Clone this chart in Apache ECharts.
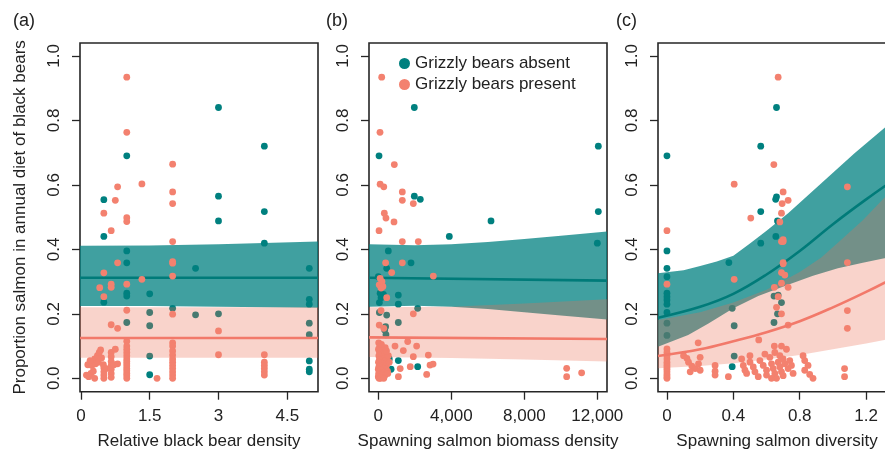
<!DOCTYPE html>
<html>
<head>
<meta charset="utf-8">
<script src="https://cdn.jsdelivr.net/npm/echarts@6/dist/echarts.min.js"></script>
<style>
html,body{margin:0;padding:0;background:#fff;}
#chart{width:885px;height:450px;}
</style>
</head>
<body>
<div id="chart"></div>
<script>
// ---------- tick values / labels ----------
const yTicks = [0, 0.2, 0.4, 0.6, 0.8, 1.0];
const yTickLabels = ['0.0', '0.2', '0.4', '0.6', '0.8', '1.0'];
const aTicks = [0, 1.5, 3, 4.5];
const aTickLabels = ['0', '1.5', '3', '4.5'];
const bTicks = [0, 4000, 8000, 12000];
const bTickLabels = ['0', '4,000', '8,000', '12,000'];
const cTicks = [0, 0.4, 0.8, 1.2];
const cTickLabels = ['0', '0.4', '0.8', '1.2'];
const xTitles = ['Relative black bear density', 'Spawning salmon biomass density', 'Spawning salmon diversity'];
const yTitle = 'Proportion salmon in annual diet of black bears';
const panelLabels = ['(a)', '(b)', '(c)'];
const legendNames = ['Grizzly bears absent', 'Grizzly bears present'];

// ---------- panel (a): relative black bear density ----------
const aAbsent = [[3,0.84],[4,0.72],[1,0.69],[0.5,0.554],[3,0.565],[4,0.517],[3,0.488],[0.5,0.44],[4,0.419],[1,0.395],[1,0.358],[2.5,0.341],[4.98,0.341],[1,0.264],[1,0.255],[1.5,0.262],[0.5,0.236],[2,0.217],[4.98,0.245],[4.98,0.23],[1.5,0.204],[2.5,0.197],[3,0.2],[1,0.173],[1.5,0.163],[4.98,0.171],[4.98,0.135],[1.5,0.069],[4.98,0.054],[4.98,0.028],[4.98,0.02],[1.5,0.011]];
const aPresent = [[1,0.934],[1,0.763],[2,0.664],[0.8,0.594],[1.33,0.603],[2,0.578],[0.75,0.552],[2,0.542],[0.5,0.512],[1,0.498],[1,0.486],[0.66,0.458],[2,0.424],[0.8,0.358],[2,0.362],[2,0.357],[0.5,0.327],[2,0.317],[1.33,0.307],[0.66,0.292],[0.66,0.282],[1,0.292],[0.41,0.281],[0.5,0.253],[1,0.211],[2,0.199],[0.66,0.166],[0.8,0.155],[3,0.147],[3,0.073],[1.66,0.0],
  [0.15,0.042],[0.17,0.005],[0.22,0.015],[0.24,0.04],[0.27,0.022],[0.3,0.06],[0.32,0.045],[0.3,0.0],[0.36,0.07],[0.38,0.05],[0.4,0.08],[0.43,0.088],[0.45,0.063],[0.49,0.042],[0.5,0.032],[0.5,0.02],[0.5,0.01],[0.5,0.0],[0.55,0.03],[0.66,0.08],[0.66,0.067],[0.66,0.052],[0.66,0.04],[0.66,0.028],[0.66,0.015],[0.66,0.003],[0.72,0.042],[0.75,0.09],[0.8,0.045],[0.2,0.055],[0.12,0.01],
  [1,0.115],[1,0.1],[1,0.09],[1,0.08],[1,0.07],[1,0.06],[1,0.052],[1,0.045],[1,0.038],[1,0.03],[1,0.023],[1,0.015],[1,0.008],[1,0.0],
  [2,0.11],[2,0.1],[2,0.085],[2,0.072],[2,0.06],[2,0.05],[2,0.04],[2,0.03],[2,0.02],[2,0.01],[2,0.0],
  [4,0.073],[4,0.05],[4,0.04],[4,0.03],[4,0.02],[4,0.01]];
const aTealLine = [[-0.02,0.312],[5.17,0.312]];
const aTealUpper = [[-0.02,0.411],[1.5,0.412],[3,0.416],[5.17,0.424]];
const aTealLower = [[-0.02,0.224],[1.5,0.224],[3,0.222],[5.17,0.219]];
const aRedLine = [[-0.02,0.125],[5.17,0.125]];
const aRedUpper = [[-0.02,0.22],[5.17,0.22]];
const aRedLower = [[-0.02,0.064],[5.17,0.064]];

// ---------- panel (b): spawning salmon biomass density ----------
const bAbsent = [[1973,0.84],[40,0.69],[12055,0.72],[1973,0.565],[2301,0.555],[12055,0.517],[6175,0.488],[3890,0.44],[12000,0.419],[548,0.395],[1792,0.358],[460,0.341],[0,0.315],[100,0.264],[280,0.26],[1096,0.258],[1096,0.23],[60,0.235],[2158,0.217],[60,0.204],[460,0.196],[1096,0.173],[400,0.16],[350,0.15],[420,0.135],[1096,0.055],[2158,0.036],[600,0.06],[700,0.028],[150,0.25]];
const bPresent = [[186,0.934],[93,0.763],[877,0.663],[100,0.602],[300,0.594],[1315,0.578],[1315,0.552],[1918,0.542],[330,0.512],[420,0.497],[860,0.485],[40,0.458],[1315,0.424],[2192,0.424],[400,0.358],[1315,0.358],[734,0.328],[3014,0.317],[100,0.31],[200,0.3],[50,0.29],[250,0.285],[150,0.28],[460,0.25],[1918,0.2],[150,0.21],[50,0.165],[300,0.155],[10320,0.031],[10320,0.005],[11140,0.017],
  [915,0.1],[1610,0.114],[2100,0.1],[1370,0.086],[1918,0.067],[2740,0.072],[2833,0.041],[3000,0.044],[2650,0.012],[1200,0.03],[1750,0.036],[1100,0.005],
  [20,0.11],[80,0.1],[150,0.09],[50,0.085],[250,0.08],[120,0.075],[30,0.07],[320,0.068],[200,0.06],[60,0.058],[400,0.055],[10,0.05],[150,0.048],[280,0.045],[90,0.04],[450,0.04],[30,0.035],[200,0.032],[350,0.03],[0,0.028],[120,0.025],[500,0.022],[60,0.02],[250,0.018],[20,0.015],[150,0.012],[380,0.01],[80,0.008],[0,0.005],[220,0.003],[40,0.0],[120,0.0],[300,0.0],[550,0.07],[600,0.05],[520,0.015],[450,0.085],[380,0.095],[10,0.09],[170,0.105]];
const bTealLine = [[-510,0.312],[12530,0.303]];
const bTealUpper = [[-510,0.416],[2000,0.413],[4000,0.416],[6000,0.423],[8000,0.432],[10000,0.442],[12530,0.455]];
const bTealLower = [[-510,0.222],[2000,0.225],[4000,0.222],[6000,0.215],[8000,0.205],[10000,0.195],[12530,0.182]];
const bRedLine = [[-510,0.127],[12530,0.122]];
const bRedUpper = [[-510,0.22],[4000,0.222],[8000,0.232],[12530,0.245]];
const bRedLower = [[-510,0.066],[4000,0.063],[8000,0.058],[12530,0.052]];

// ---------- panel (c): spawning salmon diversity ----------
const cAbsent = [[0,0.69],[0.66,0.84],[0.565,0.72],[0.66,0.563],[0.655,0.555],[0.565,0.517],[0.666,0.488],[0.656,0.44],[0.565,0.419],[0,0.395],[0.373,0.359],[0,0.341],[0,0.315],[0,0.264],[0,0.253],[0,0.243],[0,0.23],[0,0.204],[0.645,0.255],[0.67,0.258],[0.69,0.235],[0.393,0.217],[0.666,0.2],[0,0.171],[0.405,0.163],[0.645,0.173],[0,0.133],[0.405,0.069],[0.393,0.036]];
const cPresent = [[0.67,0.934],[0.644,0.663],[0.405,0.602],[1.087,0.594],[0.70,0.578],[0.73,0.552],[0.694,0.542],[0.69,0.512],[0.505,0.497],[0.68,0.485],[0,0.458],[0.70,0.43],[0.69,0.424],[0.70,0.424],[0.70,0.359],[0.70,0.355],[1.087,0.359],[0.69,0.328],[0.71,0.32],[0.405,0.307],[0.69,0.295],[0,0.292],[0.647,0.282],[0.73,0.282],[0.67,0.253],[0.66,0.22],[0.69,0.2],[1.087,0.21],[1.087,0.155],[0.73,0.165],[0.553,0.119],[0.188,0.11],[0,0.091],[0.647,0.1],[0.69,0.1],
  [0,0.08],[0,0.07],[0,0.06],[0,0.05],[0,0.042],[0,0.035],[0,0.028],[0,0.02],[0,0.012],[0,0.005],[0,0.0],
  [0.1,0.07],[0.12,0.062],[0.13,0.05],[0.15,0.038],[0.17,0.03],[0.2,0.065],[0.19,0.045],[0.2,0.025],[0.14,0.02],
  [0.29,0.04],[0.29,0.022],[0.29,0.01],[0.37,0.005],
  [0.45,0.06],[0.46,0.04],[0.47,0.025],[0.48,0.015],[0.5,0.07],[0.5,0.05],[0.52,0.035],[0.53,0.02],[0.55,0.005],[0.56,0.055],[0.58,0.04],[0.6,0.025],[0.6,0.01],[0.62,0.065],[0.63,0.045],[0.64,0.03],[0.65,0.08],[0.65,0.015],[0.66,0.0],[0.67,0.05],[0.68,0.035],[0.68,0.07],[0.69,0.02],[0.7,0.06],[0.7,0.008],[0.71,0.045],[0.72,0.09],[0.73,0.03],[0.74,0.055],[0.75,0.04],[0.76,0.015],[0.63,0.0],[0.59,0.075],
  [0.82,0.07],[0.83,0.055],[0.85,0.04],[0.83,0.025],[0.86,0.012],[0.88,0.0],
  [1.07,0.03],[1.07,0.005]];
const cTealLine = [[-0.054,0.188],[0.2,0.222],[0.4,0.262],[0.6,0.322],[0.8,0.395],[1.0,0.478],[1.2,0.555],[1.38,0.62]];
const cTealUpper = [[-0.054,0.326],[0.1,0.335],[0.2,0.348],[0.3,0.362],[0.4,0.38],[0.5,0.418],[0.6,0.458],[0.73,0.512],[0.93,0.605],[1.13,0.698],[1.31,0.776],[1.38,0.805]];
const cTealLower = [[-0.054,0.098],[0.128,0.134],[0.25,0.17],[0.4,0.217],[0.55,0.255],[0.73,0.29],[0.88,0.318],[1.03,0.341],[1.18,0.358],[1.31,0.372],[1.38,0.38]];
const cRedLine = [[-0.054,0.069],[0.2,0.09],[0.4,0.115],[0.6,0.143],[0.8,0.177],[1.0,0.22],[1.2,0.268],[1.38,0.315]];
const cRedUpper = [[-0.054,0.181],[0.2,0.205],[0.4,0.235],[0.6,0.275],[0.8,0.33],[0.93,0.375],[1.05,0.43],[1.18,0.49],[1.31,0.56],[1.38,0.595]];
const cRedLower = [[-0.054,0.031],[0.2,0.038],[0.4,0.047],[0.6,0.058],[0.8,0.072],[1.0,0.09],[1.2,0.108],[1.31,0.119],[1.38,0.126]];

// ---------- styling ----------
const FONT = '"Liberation Sans", Arial, Helvetica, sans-serif';
const TXT = '#222222';
const TEAL = '#00807f';
const SALMON = '#f3816f';
const TEAL_BAND = 'rgba(0,128,128,0.75)';
const RED_BAND = 'rgba(235,108,82,0.30)';

const panels = [
  {xmin: -0.02, xmax: 5.17, ticks: aTicks, labels: aTickLabels, absent: aAbsent, present: aPresent,
   tealLine: aTealLine, tealUpper: aTealUpper, tealLower: aTealLower, redLine: aRedLine, redUpper: aRedUpper, redLower: aRedLower, smooth: false},
  {xmin: -510, xmax: 12530, ticks: bTicks, labels: bTickLabels, absent: bAbsent, present: bPresent,
   tealLine: bTealLine, tealUpper: bTealUpper, tealLower: bTealLower, redLine: bRedLine, redUpper: bRedUpper, redLower: bRedLower, smooth: false},
  {xmin: -0.054, xmax: 1.38, ticks: cTicks, labels: cTickLabels, absent: cAbsent, present: cPresent,
   tealLine: cTealLine, tealUpper: cTealUpper, tealLower: cTealLower, redLine: cRedLine, redUpper: cRedUpper, redLower: cRedLower, smooth: 0.4}
];
const gridLefts = [80, 369, 658];

function labelFor(ticks, labels) {
  return function (v) {
    for (let i = 0; i < ticks.length; i++) if (Math.abs(ticks[i] - v) < 1e-9 * Math.max(1, Math.abs(v))) return labels[i];
    return '';
  };
}

function band(i, upper, lower, color, z) {
  return {
    type: 'custom', xAxisIndex: i, yAxisIndex: i, z: z, silent: true, clip: true,
    data: [[upper[0][0], upper[0][1]]],
    renderItem: function (params, api) {
      const pts = upper.map(p => api.coord(p)).concat(lower.slice().reverse().map(p => api.coord(p)));
      return {type: 'polygon', shape: {points: pts}, style: {fill: color}};
    }
  };
}

const grids = [], xAxes = [], yAxes = [], series = [];
panels.forEach((p, i) => {
  grids.push({left: gridLefts[i], top: 43, width: 238, height: 348.7, show: true,
    borderColor: '#262626', borderWidth: 1.6, backgroundColor: 'transparent',
    containLabel: false, outerBoundsMode: 'none'});
  xAxes.push({type: 'value', gridIndex: i, min: p.xmin, max: p.xmax,
    name: xTitles[i], nameLocation: 'middle', nameGap: 41,
    nameTextStyle: {fontFamily: FONT, fontSize: 17, color: TXT},
    axisLine: {show: false, onZero: false},
    axisTick: {show: true, customValues: p.ticks, length: 8, inside: false, lineStyle: {color: '#262626', width: 1.3}},
    axisLabel: {show: true, customValues: p.ticks, formatter: labelFor(p.ticks, p.labels), margin: 16,
      fontFamily: FONT, fontSize: 17, color: TXT},
    splitLine: {show: false}});
  const ya = {type: 'value', gridIndex: i, min: -0.0416, max: 1.04,
    axisLine: {show: false, onZero: false},
    axisTick: {show: true, customValues: yTicks, length: 8, inside: false, lineStyle: {color: '#262626', width: 1.3}},
    axisLabel: {show: true, customValues: yTicks, formatter: labelFor(yTicks, yTickLabels), rotate: 90, margin: 17,
      fontFamily: FONT, fontSize: 17, color: TXT},
    splitLine: {show: false}};
  if (i === 0) {
    ya.name = yTitle; ya.nameLocation = 'middle'; ya.nameGap = 51; ya.nameRotate = 90;
    ya.nameTextStyle = {fontFamily: FONT, fontSize: 17, color: TXT};
  }
  yAxes.push(ya);

  series.push(band(i, p.tealUpper, p.tealLower, TEAL_BAND, 1));
  series.push({type: 'scatter', name: legendNames[0], xAxisIndex: i, yAxisIndex: i, data: p.absent,
    symbol: 'circle', symbolSize: 6.8, itemStyle: {color: TEAL, opacity: 1}, z: 2, silent: true});
  series.push({type: 'line', name: 'absent fit', xAxisIndex: i, yAxisIndex: i, data: p.tealLine, smooth: p.smooth,
    symbol: 'none', lineStyle: {color: '#007b79', width: 2.6}, z: 3, silent: true});
  series.push(band(i, p.redUpper, p.redLower, RED_BAND, 4));
  series.push({type: 'scatter', name: legendNames[1], xAxisIndex: i, yAxisIndex: i, data: p.present,
    symbol: 'circle', symbolSize: 6.8, itemStyle: {color: SALMON, opacity: 1}, z: 5, silent: true});
  series.push({type: 'line', name: 'present fit', xAxisIndex: i, yAxisIndex: i, data: p.redLine, smooth: p.smooth,
    symbol: 'none', lineStyle: {color: '#f2796a', width: 2.6}, z: 6, silent: true});
});

const chart = echarts.init(document.getElementById('chart'), null, {renderer: 'canvas'});
chart.setOption({
  animation: false,
  backgroundColor: '#ffffff',
  grid: grids, xAxis: xAxes, yAxis: yAxes, series: series,
  legend: {data: legendNames, orient: 'vertical', left: 399, top: 55, icon: 'circle',
    itemWidth: 11, itemHeight: 11, itemGap: 4, padding: 0, selectedMode: false,
    textStyle: {fontFamily: FONT, fontSize: 17, color: TXT}},
  graphic: panelLabels.map((t, i) => ({type: 'text', left: [13, 326, 616][i], top: 12,
    style: {text: t, fontFamily: FONT, fontSize: 18, fill: TXT}}))
});
</script>
</body>
</html>
